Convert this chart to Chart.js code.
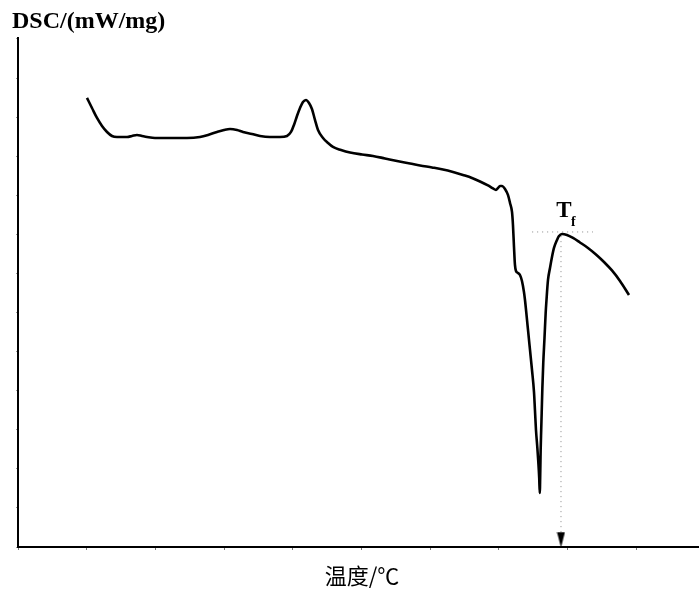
<!DOCTYPE html>
<html>
<head>
<meta charset="utf-8">
<script src="https://cdn.jsdelivr.net/npm/chart.js@4/dist/chart.umd.min.js"></script>
<style>
html,body{margin:0;padding:0;background:#fff;}
#wrap{width:699px;height:589px;}
</style>
</head>
<body>
<div id="wrap"><canvas id="c" width="699" height="589"></canvas></div>
<script>
// Temperature (arbitrary units, one per x tick) and DSC signal (arbitrary units, one per y tick)
const temperature = [
1.004,1.077,1.150,1.223,1.296,1.368,1.441,1.514,1.587,1.659,
1.732,1.805,1.878,1.994,2.111,2.285,2.460,2.649,2.766,2.897,
2.999,3.086,3.188,3.275,3.406,3.523,3.668,3.814,3.916,3.974,
4.017,4.061,4.105,4.148,4.192,4.236,4.279,4.323,4.367,4.440,
4.512,4.585,4.702,4.833,5.007,5.167,5.342,5.517,5.706,5.852,
6.026,6.186,6.332,6.477,6.608,6.725,6.841,6.914,6.958,6.987,
7.016,7.045,7.089,7.132,7.162,7.191,7.205,7.220,7.234,7.249,
7.278,7.307,7.336,7.365,7.380,7.424,7.453,7.482,7.511,7.525,
7.540,7.559,7.574,7.587,7.595,7.603,7.608,7.616,7.623,7.633,
7.646,7.664,7.681,7.693,7.715,7.744,7.773,7.802,7.846,7.875,
7.918,7.991,8.079,8.180,8.297,8.413,8.530,8.646,8.763,8.894];
const dsc = [
11.513,11.256,11.000,10.795,10.641,10.538,10.513,10.513,10.513,10.538,
10.564,10.538,10.513,10.487,10.487,10.487,10.487,10.513,10.564,10.641,
10.692,10.718,10.692,10.641,10.590,10.538,10.513,10.513,10.538,10.641,
10.821,11.051,11.256,11.410,11.462,11.385,11.231,10.949,10.692,10.487,
10.359,10.256,10.179,10.115,10.064,10.026,9.962,9.897,9.833,9.782,
9.731,9.679,9.615,9.538,9.462,9.372,9.269,9.192,9.154,9.205,
9.256,9.256,9.179,9.026,8.821,8.590,8.256,7.692,7.231,7.077,
7.026,6.974,6.821,6.538,6.333,5.564,5.051,4.538,3.974,3.513,
3.000,2.564,2.179,1.769,1.385,1.974,2.487,3.000,3.436,4.077,
4.718,5.359,6.000,6.333,6.846,7.154,7.436,7.667,7.872,7.974,
8.026,8.000,7.923,7.808,7.667,7.500,7.308,7.090,6.821,6.462];

// Tf marker (peak onset temperature) guide lines
const tfTemp = 7.904;
const tfLevel = 8.077;
const tfHorizX = [7.482, 8.370];
const tfVertY = [7.974, 0.385];
const tfArrowY = 0.192;

// Axis ranges / tick steps
const xRange = [0, 9.913];
const yRange = [0, 13.05];

const yTitle = 'DSC/(mW/mg)';
const xTitle = '温度/℃';
const peakLabel = 'T';
const peakSub = 'f';

// narrow down-pointing arrow head image
const arrow = document.createElement('canvas');
arrow.width = 9; arrow.height = 16;
(function(){
  const g = arrow.getContext('2d');
  g.fillStyle = '#000';
  g.beginPath();
  g.moveTo(0.5, 0.5); g.lineTo(8.5, 0.5); g.lineTo(4.5, 16); g.closePath();
  g.fill();
})();

const curve = temperature.map((t, i) => ({x: t, y: dsc[i]}));

const textPlugin = {
  id: 'texts',
  afterDraw(chart) {
    const ctx = chart.ctx;
    const xs = chart.scales.x, ys = chart.scales.y;
    ctx.save();
    ctx.fillStyle = '#000';
    ctx.textBaseline = 'alphabetic';
    ctx.textAlign = 'left';
    ctx.font = 'bold 24px "Liberation Serif", "Times New Roman", serif';
    ctx.fillText(yTitle, 12, 28);

    ctx.textAlign = 'center';
    ctx.textBaseline = 'middle';
    ctx.font = '22px "Noto Sans CJK SC", sans-serif';
    ctx.fillText(xTitle, 362, 576);

    // Tf label above the peak
    const px = xs.getPixelForValue(tfTemp);
    const py = ys.getPixelForValue(tfLevel);
    ctx.textAlign = 'center';
    ctx.textBaseline = 'alphabetic';
    ctx.font = 'bold 23px "Liberation Serif", "Times New Roman", serif';
    ctx.fillText(peakLabel, px + 3, py - 15);
    ctx.textAlign = 'left';
    ctx.font = 'bold 14px "Liberation Serif", "Times New Roman", serif';
    ctx.fillText(peakSub, px + 10, py - 6);
    ctx.restore();
  }
};

new Chart(document.getElementById('c'), {
  type: 'scatter',
  data: {
    datasets: [
      {
        data: curve,
        showLine: true,
        borderColor: '#000',
        borderWidth: 2.6,
        pointRadius: 0,
        cubicInterpolationMode: 'monotone',
        order: 0
      },
      {
        data: [{x: tfHorizX[0], y: tfLevel}, {x: tfHorizX[1], y: tfLevel}],
        showLine: true,
        borderColor: '#9a9a9a',
        borderWidth: 1,
        borderDash: [1.2, 3.8],
        pointRadius: 0,
        order: 2
      },
      {
        data: [{x: tfTemp, y: tfVertY[0]}, {x: tfTemp, y: tfVertY[1]}],
        showLine: true,
        borderColor: '#9a9a9a',
        borderWidth: 1,
        borderDash: [1.2, 3.8],
        pointRadius: 0,
        order: 2
      },
      {
        data: [{x: tfTemp, y: tfArrowY}],
        showLine: false,
        pointStyle: arrow,
        pointRadius: 8,
        order: 1
      }
    ]
  },
  options: {
    responsive: false,
    animation: false,
    devicePixelRatio: 1,
    layout: {autoPadding: false, padding: {top: 38, left: 0, right: 0, bottom: 0}},
    plugins: {legend: {display: false}, tooltip: {enabled: false}},
    scales: {
      x: {
        type: 'linear',
        min: xRange[0], max: xRange[1],
        ticks: {display: false, stepSize: 1},
        grid: {drawOnChartArea: false, drawTicks: true, tickLength: 3, color: '#777', lineWidth: 1},
        border: {display: true, color: '#000', width: 2},
        afterFit(s) { s.height = 42; }
      },
      y: {
        type: 'linear',
        min: yRange[0], max: yRange[1],
        ticks: {display: false, stepSize: 1},
        grid: {drawOnChartArea: false, drawTicks: true, tickLength: 2, color: '#999', lineWidth: 1},
        border: {display: true, color: '#000', width: 2},
        afterFit(s) { s.width = 18; }
      }
    }
  },
  plugins: [textPlugin]
});
</script>
</body>
</html>
